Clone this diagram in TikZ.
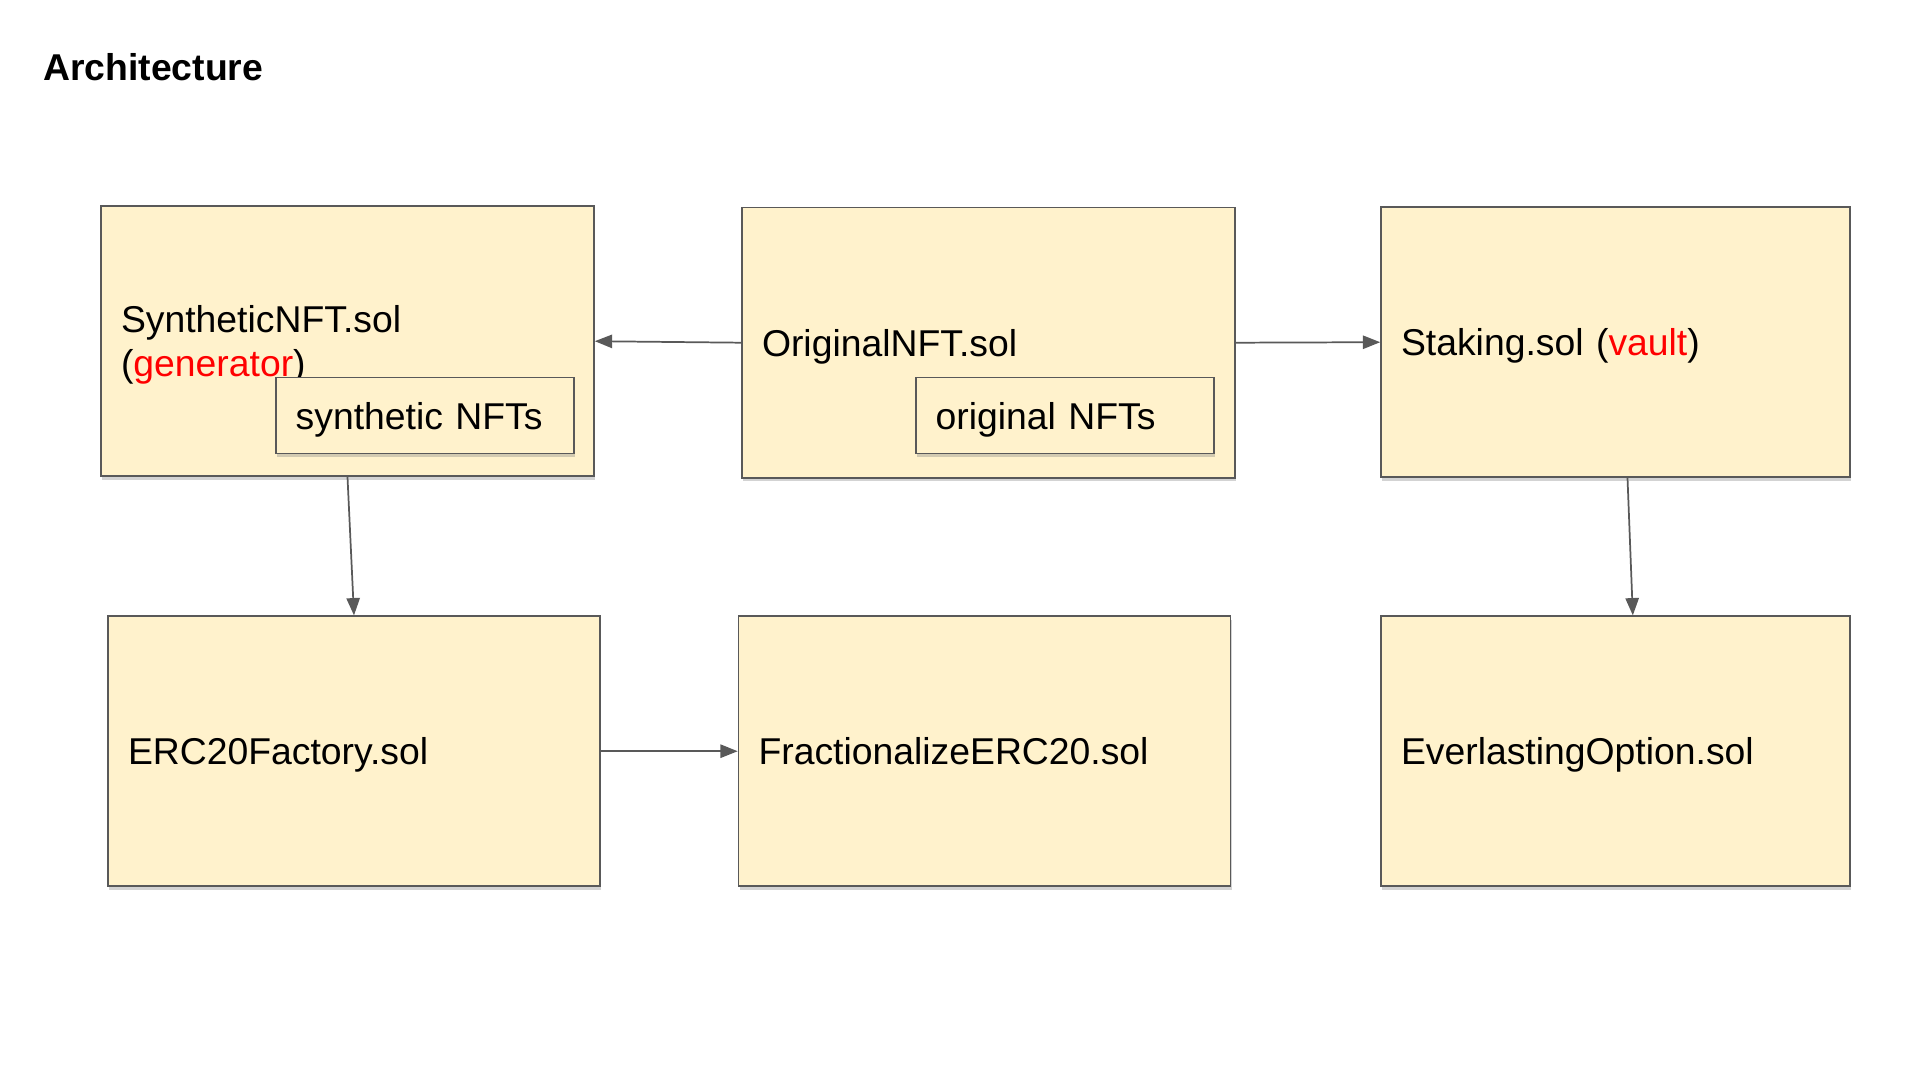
\documentclass[tikz,border=0pt]{standalone}
\usepackage{fontspec}
\setmainfont{Liberation Sans}
\usetikzlibrary{arrows.meta,shadows}
\definecolor{boxfill}{HTML}{FFF2CC}
\definecolor{edgegray}{HTML}{595959}
\definecolor{hired}{HTML}{FF0000}
\tikzset{
  sol/.style={draw=edgegray, line width=1.2pt, fill=boxfill, align=left,
    inner xsep=15pt, minimum height=202.5pt, text depth=0pt,
    font=\fontsize{28}{31.5}\selectfont,
    drop shadow={shadow xshift=0.8pt, shadow yshift=-2.5pt, opacity=0.35}},
  tokens/.style={draw=edgegray, line width=1.2pt, fill=boxfill, align=left,
    inner xsep=15pt, text width=193.5pt, minimum height=56.7pt, text depth=0pt,
    font=\fontsize{28}{31.5}\selectfont,
    drop shadow={shadow xshift=0.8pt, shadow yshift=-2.5pt, opacity=0.35}},
  link/.style={draw=edgegray, line width=1.3pt, -{Triangle[length=13pt,width=10pt]}}
}

\begin{document}
\begin{tikzpicture}[x=0.75pt,y=-0.75pt]
\useasboundingbox (0,0) rectangle (1920,1080);
\node[anchor=base west, inner sep=0, font=\fontsize{28}{34}\selectfont\bfseries] (title) at (43,81) {Architecture};
\node[sol, text width=339.75pt, text depth=33pt, font=\fontsize{28}{33}\selectfont] (synth) at (347.5,341.2) {SyntheticNFT.sol\\(\textcolor{hired}{generator})};
\node[sol, text width=339.75pt] (orig) at (988.5,342.7) {OriginalNFT.sol};
\node[sol, text width=321.75pt] (staking) at (1615.5,342.2) {Staking.sol (\textcolor{hired}{vault})};
\node[sol, text width=339pt] (erc) at (354,751.2) {ERC20Factory.sol};
\node[sol, text width=339pt] (frac) at (984.5,751.2) {FractionalizeERC20.sol};
\node[sol, text width=321.75pt] (ever) at (1615.5,751.2) {EverlastingOption.sol};
\node[tokens] (synthtok) at (424.7,415.5) {synthetic NFTs};
\node[tokens] (origtok) at (1064.7,415.5) {original NFTs};
\path[link] (orig.west) -- (synth.east);
\path[link] (orig.east) -- (staking.west);
\path[link] (synth.south) -- (erc.north);
\path[link] ([xshift=9pt]staking.south) -- ([xshift=13pt]ever.north);
\path[link] (erc.east) -- (frac.west);
\end{tikzpicture}
\end{document}
